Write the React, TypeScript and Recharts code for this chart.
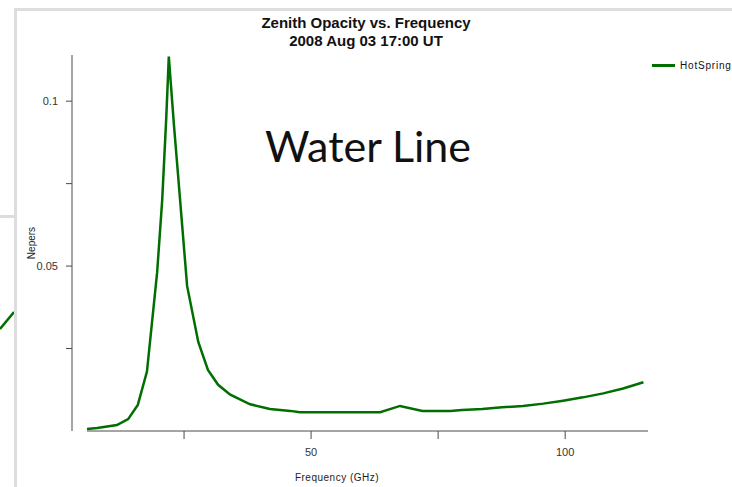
import { LineChart, Line, XAxis, YAxis, Legend, ReferenceLine } from "recharts";

// frequency (GHz) and zenith opacity (nepers)
const freqs = [
  5.9, 7.9, 11.8, 14.0, 15.9, 17.7, 19.7, 20.7, 21.5, 22.0, 23.0, 23.8, 25.6, 27.8, 29.7,
  31.7, 34.1, 38.0, 41.9, 45.9, 47.8, 63.6, 67.5, 71.9, 77.4, 79.7, 83.7, 87.6, 91.7, 95.7,
  99.6, 103.5, 107.5, 111.4, 115.4,
];
const nepers = [
  0.0006, 0.0009, 0.0018, 0.0036, 0.0079, 0.018, 0.048, 0.07, 0.095, 0.1135, 0.093, 0.078,
  0.044, 0.027, 0.0185, 0.014, 0.011, 0.0081, 0.0067, 0.0061, 0.0057, 0.0057, 0.0076, 0.0061,
  0.0061, 0.0064, 0.0067, 0.0072, 0.0076, 0.0083, 0.0092, 0.0102, 0.0114, 0.0129, 0.0148,
];
const xTicks = [25, 50, 75, 100];
const xLabeled = [50, 100];
const yTicks = [0.025, 0.05, 0.075, 0.1];
const yLabeled = [0.05, 0.1];
const seriesName = "HotSpring";

const data = freqs.map((f, i) => ({ f, v: nepers[i] }));

const AXIS = "#4a4a4a";
const GREEN = "#006e00";
const FRAME = "#dddddd";
const FONT = "'Liberation Sans', Arial, sans-serif";

function LegendBox() {
  return (
    <div style={{ display: "flex", alignItems: "center", fontFamily: FONT, fontSize: 10, letterSpacing: 0.8, color: "#111", whiteSpace: "nowrap" }}>
      <span style={{ display: "inline-block", width: 23, height: 3, background: GREEN, marginRight: 5 }} />
      {seriesName}
    </div>
  );
}

export default function App() {
  return (
    <div style={{ position: "absolute", left: 0, top: 0, width: 732, height: 487, background: "#fff", overflow: "hidden" }}>
      {/* slide frame behind the chart */}
      <div style={{ position: "absolute", left: 14, top: 8, width: 718, height: 3, background: FRAME }} />
      <div style={{ position: "absolute", left: 14, top: 8, width: 3, height: 479, background: FRAME }} />
      <div style={{ position: "absolute", left: 0, top: 215, width: 14, height: 3, background: FRAME }} />
      <svg style={{ position: "absolute", left: 0, top: 0 }} width={14} height={487}>
        <line x1={0} y1={329} x2={14} y2={312} stroke={GREEN} strokeWidth={2.5} />
      </svg>

      <div style={{ position: "absolute", left: 0, top: 14, width: 732, textAlign: "center", fontFamily: FONT, fontWeight: "bold", fontSize: 15, lineHeight: "18px", color: "#111" }}>
        <div>Zenith Opacity vs. Frequency</div>
        <div>2008 Aug 03 17:00 UT</div>
      </div>

      <div style={{ position: "absolute", left: 0, top: 0 }}>
        <LineChart width={732} height={487} data={data} margin={{ top: 55, right: 84, bottom: 0, left: 0 }}>
          <XAxis
            dataKey="f"
            type="number"
            domain={[2.95, 116.3]}
            allowDataOverflow
            ticks={xTicks}
            tickFormatter={(t: number) => (xLabeled.includes(t) ? String(t) : "")}
            axisLine={false}
            tickSize={8}
            tickMargin={9}
            height={56}
            tickLine={{ stroke: AXIS }}
            tick={{ fill: "#333", fontSize: 11, fontFamily: FONT }}
            label={({ viewBox }: any) => (
              <text x={viewBox.x + 265} y={viewBox.y + 50} textAnchor="middle" fill="#222" fontSize={10} letterSpacing={0.5} fontFamily={FONT}>
                Frequency (GHz)
              </text>
            )}
          />
          <YAxis
            type="number"
            domain={[0, 0.114]}
            allowDataOverflow
            ticks={yTicks}
            tickFormatter={(t: number) => (yLabeled.includes(t) ? String(t) : "")}
            width={72}
            tickSize={6}
            tickMargin={8}
            axisLine={{ stroke: AXIS }}
            tickLine={{ stroke: AXIS }}
            tick={{ fill: "#333", fontSize: 11, fontFamily: FONT }}
            label={({ viewBox }: any) => {
              const x = viewBox.x + 35;
              const y = viewBox.y + viewBox.height / 2;
              return (
                <text x={x} y={y} transform={`rotate(-90, ${x}, ${y})`} textAnchor="middle" fill="#222" fontSize={10} fontFamily={FONT}>
                  Nepers
                </text>
              );
            }}
          />
          <ReferenceLine segment={[{ x: 5.9, y: 0 }, { x: 116.3, y: 0 }]} stroke={AXIS} strokeWidth={1} ifOverflow="visible" />
          <Legend
            layout="vertical"
            verticalAlign="middle"
            align="center"
            content={() => <LegendBox />}
            wrapperStyle={{ position: "absolute", left: 652, top: 60, width: 90 }}
          />
          <Line
            type="linear"
            dataKey="v"
            name={seriesName}
            stroke={GREEN}
            strokeWidth={2.5}
            dot={false}
            isAnimationActive={false}
          />
        </LineChart>
      </div>

      <div style={{ position: "absolute", left: 265, top: 121, fontFamily: "Lato, 'Open Sans', sans-serif", fontSize: 43, lineHeight: "50px", color: "#111" }}>
        Water Line
      </div>
    </div>
  );
}
